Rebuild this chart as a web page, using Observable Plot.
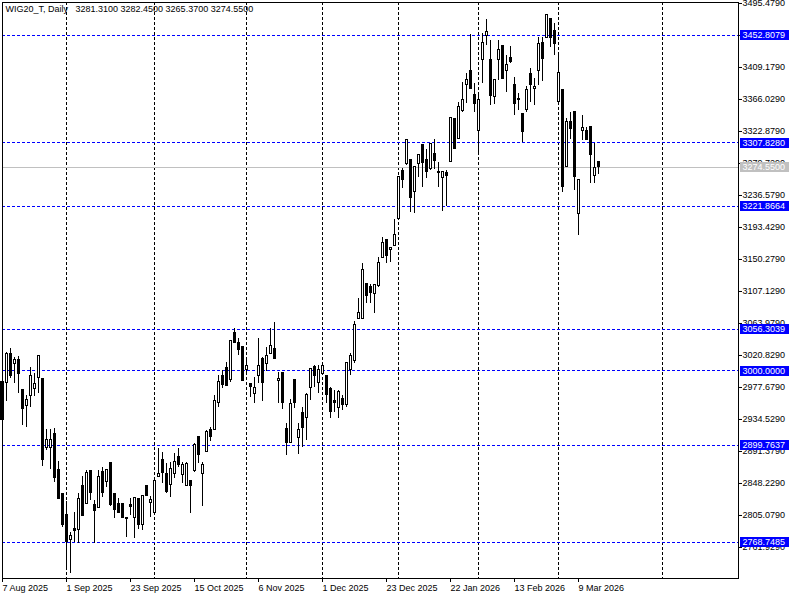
<!DOCTYPE html>
<html><head><meta charset="utf-8">
<script src="https://cdn.jsdelivr.net/npm/d3@7"></script>
<script src="https://cdn.jsdelivr.net/npm/@observablehq/plot@0.6"></script>
<style>
html,body{margin:0;padding:0;background:#fff;}
#chart{width:800px;height:600px;}
</style></head><body><div id="chart"></div>
<script>
const symbol = "WIG20_T";
const period = "Daily";

const opens = [
2984.8, 2983.5, 3023.1, 3009.6, 3015.4, 2974.6, 2952.5, 2966.5, 2975.4, 2990.2,
2988.5, 2896.4, 2896.4, 2915.2, 2866.7, 2834.3, 2805.1, 2772.3, 2787.1, 2785.8,
2844.2, 2820.8, 2865.3, 2818.6, 2815.4, 2863.5, 2850.0, 2876.1, 2833.4, 2819.9,
2819.9, 2799.7, 2818.6, 2802.0, 2826.7, 2792.5, 2845.5, 2821.7, 2808.2, 2856.7,
2880.2, 2861.3, 2846.5, 2861.3, 2884.6, 2860.0, 2845.5, 2850.9, 2864.8, 2910.7,
2861.3, 2890.4, 2919.7, 2920.6, 2956.5, 2993.8, 3004.2, 2987.1, 3051.4, 3037.4,
3032.0, 3001.5, 2981.7, 2969.2, 2993.4, 3016.4, 3009.6, 3023.1, 3029.9, 2986.2,
2997.5, 2922.0, 2902.6, 2987.1, 2909.8, 2943.0, 2936.8, 2977.3, 3005.0, 2983.5,
2996.1, 2993.8, 2975.9, 2959.2, 2949.8, 2962.4, 2953.4, 3000.6, 3013.1, 3070.3,
3070.3, 3116.6, 3112.9, 3104.0, 3113.9, 3152.6, 3176.8, 3162.4, 3168.2, 3205.1,
3269.3, 3279.3, 3284.7, 3241.0, 3279.3, 3304.0, 3284.7, 3272.6, 3292.8, 3268.9,
3260.4, 3266.6, 3281.5, 3340.0, 3313.0, 3350.2, 3384.9, 3403.8, 3372.3, 3322.9,
3419.5, 3452.3, 3418.6, 3369.1, 3418.6, 3437.5, 3405.1, 3422.2, 3385.8, 3367.0,
3346.7, 3352.5, 3400.7, 3380.4, 3405.1, 3441.9, 3449.2, 3474.8, 3459.0, 3363.3,
3378.2, 3274.7, 3335.4, 3348.9, 3211.9, 3324.2, 3324.2, 3328.7, 3262.6, 3281.31
];
const highs = [
2989.8, 3025.3, 3029.9, 3018.5, 3019.5, 2975.5, 2966.9, 3004.2, 2997.0, 3021.0,
2989.4, 2920.6, 2920.6, 2922.4, 2877.9, 2835.0, 2824.4, 2782.6, 2809.5, 2834.3,
2858.1, 2865.8, 2866.0, 2825.3, 2865.8, 2869.4, 2866.5, 2876.8, 2834.0, 2827.6,
2820.5, 2802.5, 2828.0, 2829.5, 2827.3, 2832.2, 2846.1, 2830.7, 2851.5, 2895.0,
2890.4, 2874.8, 2876.9, 2889.1, 2895.0, 2876.9, 2876.9, 2851.5, 2901.7, 2912.0,
2876.9, 2919.7, 2923.7, 2966.9, 2993.8, 3000.6, 3011.8, 3041.6, 3056.8, 3043.3,
3032.6, 3014.1, 2982.3, 2991.6, 3043.3, 3018.5, 3032.0, 3056.8, 3065.7, 2998.3,
2998.1, 2928.7, 2961.1, 2987.7, 2929.5, 2951.1, 2969.2, 3003.5, 3007.3, 3007.3,
3008.0, 2994.4, 2978.1, 2973.6, 2973.6, 2966.9, 3011.0, 3023.1, 3067.1, 3097.3,
3144.5, 3117.2, 3116.6, 3115.8, 3153.4, 3179.5, 3177.4, 3166.9, 3203.8, 3261.8,
3272.6, 3312.3, 3285.3, 3275.3, 3292.4, 3304.6, 3298.2, 3306.9, 3311.7, 3280.7,
3269.5, 3270.3, 3341.9, 3340.6, 3362.4, 3389.3, 3401.5, 3453.2, 3387.2, 3373.7,
3455.4, 3473.5, 3445.6, 3393.2, 3445.6, 3438.1, 3425.3, 3437.5, 3396.1, 3373.7,
3347.3, 3383.5, 3407.4, 3393.9, 3450.0, 3449.2, 3481.2, 3475.4, 3468.1, 3425.3,
3378.8, 3340.0, 3348.9, 3349.5, 3257.4, 3344.4, 3328.7, 3329.3, 3307.1, 3282.45
];
const lows = [
2933.2, 2959.2, 2989.4, 2982.7, 2970.0, 2926.4, 2923.3, 2950.3, 2965.9, 2970.0,
2871.6, 2892.7, 2866.7, 2850.0, 2826.8, 2789.3, 2733.2, 2726.5, 2769.1, 2766.9,
2803.5, 2820.0, 2825.3, 2766.9, 2814.8, 2829.8, 2843.2, 2817.2, 2801.4, 2807.4,
2801.4, 2775.0, 2805.1, 2773.7, 2785.8, 2784.8, 2830.7, 2802.8, 2807.6, 2856.1,
2848.6, 2835.1, 2829.8, 2854.6, 2870.2, 2847.8, 2844.2, 2808.2, 2863.5, 2875.6,
2817.2, 2889.8, 2904.9, 2919.7, 2951.1, 2975.9, 2979.0, 2984.8, 3036.8, 3020.8,
2985.6, 2996.1, 2963.8, 2956.5, 2982.7, 2959.2, 2999.6, 3022.5, 3015.8, 2956.5,
2947.6, 2886.0, 2902.0, 2948.9, 2886.9, 2897.2, 2906.2, 2960.1, 2977.3, 2970.0,
2995.5, 2955.7, 2935.5, 2944.4, 2935.5, 2946.7, 2951.1, 2993.8, 3009.6, 3069.0,
3069.7, 3090.5, 3091.3, 3077.0, 3112.9, 3152.0, 3144.5, 3146.6, 3167.6, 3202.9,
3245.6, 3277.0, 3214.0, 3211.9, 3261.2, 3247.7, 3259.1, 3270.3, 3271.2, 3247.7,
3215.4, 3221.7, 3280.9, 3298.9, 3312.4, 3348.9, 3360.2, 3379.8, 3348.9, 3291.8,
3388.0, 3438.8, 3357.9, 3359.3, 3391.6, 3393.0, 3375.8, 3414.1, 3344.4, 3351.2,
3308.4, 3348.9, 3362.4, 3357.9, 3384.9, 3390.7, 3448.6, 3436.5, 3425.3, 3362.7,
3241.0, 3274.1, 3311.7, 3243.3, 3182.6, 3310.7, 3310.7, 3252.3, 3252.3, 3265.37
];
const closes = [
2934.1, 3022.2, 2992.9, 3014.1, 2996.1, 2948.4, 2961.1, 2992.5, 2981.7, 3020.4,
2880.2, 2906.2, 2907.1, 2855.9, 2827.6, 2792.9, 2769.1, 2776.8, 2784.8, 2827.6,
2804.1, 2862.7, 2835.1, 2810.9, 2856.7, 2835.1, 2865.8, 2818.6, 2811.8, 2808.2,
2802.0, 2802.0, 2815.9, 2828.9, 2791.6, 2831.6, 2831.6, 2826.3, 2850.9, 2861.3,
2862.1, 2836.5, 2868.0, 2876.9, 2873.4, 2872.5, 2874.8, 2844.2, 2900.4, 2886.9,
2872.5, 2917.4, 2910.7, 2959.2, 2984.8, 2980.4, 2979.4, 3041.0, 3037.4, 3028.5,
2986.2, 3006.0, 2978.1, 2977.3, 3006.0, 2983.5, 3019.5, 3033.0, 3016.4, 2989.4,
2956.5, 2902.6, 2955.7, 2956.5, 2920.6, 2923.3, 2966.9, 3002.9, 2992.5, 3001.5,
3007.3, 2966.9, 2944.4, 2957.4, 2971.3, 2953.4, 3010.4, 3019.9, 3062.2, 3078.4,
3136.4, 3101.7, 3104.8, 3115.2, 3145.8, 3172.8, 3154.7, 3165.5, 3183.6, 3261.2,
3257.7, 3311.7, 3232.9, 3274.7, 3291.8, 3280.1, 3268.0, 3306.3, 3282.8, 3266.6,
3268.9, 3262.6, 3341.3, 3299.5, 3355.6, 3365.6, 3392.6, 3380.4, 3360.2, 3364.7,
3441.9, 3456.8, 3370.5, 3392.6, 3432.1, 3393.9, 3412.8, 3416.3, 3359.3, 3364.7,
3321.9, 3378.2, 3384.9, 3383.5, 3440.2, 3420.9, 3480.6, 3449.2, 3440.2, 3402.0,
3247.7, 3336.3, 3326.5, 3261.2, 3256.8, 3327.3, 3311.7, 3290.5, 3273.9, 3274.55
];

const xTickIdx = [0, 16, 32, 48, 64, 80, 96, 112, 128, 144];
const xTickLabels = ["7 Aug 2025", "1 Sep 2025", "23 Sep 2025", "15 Oct 2025", "6 Nov 2025",
  "1 Dec 2025", "23 Dec 2025", "22 Jan 2026", "13 Feb 2026", "9 Mar 2026"];
const gridIdx = [16, 38, 61, 80, 99, 119, 139, 165];
const priceTicks = [3495.479, 3452.329, 3409.179, 3366.029, 3322.879, 3279.729, 3236.579,
  3193.429, 3150.279, 3107.129, 3063.979, 3020.829, 2977.679, 2934.529, 2891.379,
  2848.229, 2805.079, 2761.929];
const levels = [3452.8079, 3307.8280, 3221.8664, 3056.3039, 3000.0000, 2899.7637, 2768.7485];

const n = opens.length;
const candles = opens.map((o, i) => ({i, o, h: highs[i], l: lows[i], c: closes[i]}));
const ups = candles.filter(d => d.c > d.o);
const downs = candles.filter(d => d.c <= d.o);
const bid = closes[n - 1];
const header = `${symbol}, ${period}\u00a0\u00a0 ${opens[n-1].toFixed(4)} ${highs[n-1].toFixed(4)} ${lows[n-1].toFixed(4)} ${closes[n-1].toFixed(4)}`;

const boxX1 = 184.6, boxX2 = 196.8;
const crisp = {shapeRendering: "crispEdges"};

const chart = Plot.plot({
  width: 800, height: 600,
  marginLeft: 2, marginRight: 62, marginTop: 2, marginBottom: 22,
  style: {fontFamily: "'Liberation Sans', Arial, sans-serif", fontSize: "9px", background: "white", color: "black", overflow: "visible"},
  x: {type: "linear", domain: [0, 184]},
  y: {type: "linear", domain: [2720.1, 3496.8]},
  marks: [
    Plot.ruleX(gridIdx, {x: d => d, stroke: "black", strokeDasharray: "3,2", ...crisp}),
    Plot.ruleY(levels, {y: d => d, stroke: "#0000ff", strokeDasharray: "3,2", ...crisp}),
    Plot.ruleY([bid], {y: d => d, stroke: "#c0c0c0", ...crisp}),
    Plot.ruleX(candles, {x: "i", y1: "l", y2: "h", stroke: "black", ...crisp}),
    Plot.rect(ups, {x1: d => d.i - 0.25, x2: d => d.i + 0.25, y1: "o", y2: "c", fill: "white", stroke: "black", ...crisp}),
    Plot.rect(downs, {x1: d => d.i - 0.25, x2: d => d.i + 0.25, y1: "c", y2: "o", fill: "black", stroke: "black", ...crisp}),
    Plot.axisX({ticks: xTickIdx, tickFormat: d => xTickLabels[xTickIdx.indexOf(d)], tickSize: 4, tickPadding: 2, textAnchor: "start", dx: 0, fontSize: 9, label: null}),
    Plot.axisY({anchor: "right", ticks: priceTicks, tickFormat: d => d.toFixed(4), tickSize: 3, tickPadding: 1, fontSize: 9, label: null}),
    Plot.frame({stroke: "black", ...crisp}),
    Plot.ruleY(levels, {y: d => d, x1: boxX1, x2: boxX2, stroke: "#0000ff", strokeWidth: 10, clip: false, ...crisp}),
    Plot.text(levels, {y: d => d, x: boxX1, text: d => d.toFixed(4), textAnchor: "start", dx: 1.5, fill: "white", fontSize: 9, clip: false}),
    Plot.ruleY([bid], {y: d => d, x1: boxX1, x2: boxX2, stroke: "#c0c0c0", strokeWidth: 10, clip: false, ...crisp}),
    Plot.text([bid], {y: d => d, x: boxX1, text: d => d.toFixed(4), textAnchor: "start", dx: 1.5, fill: "white", fontSize: 9, clip: false}),
    Plot.text([header], {frameAnchor: "top-left", text: d => d, dx: 3, dy: 3, lineAnchor: "top", textAnchor: "start", fontSize: 9, fill: "black"})
  ]
});
document.getElementById("chart").append(chart);
</script>
</body></html>
